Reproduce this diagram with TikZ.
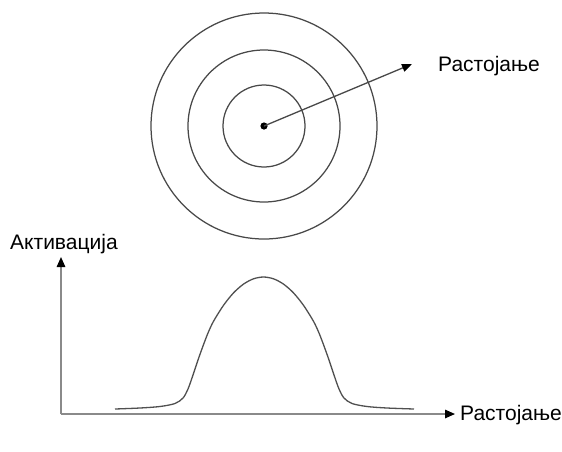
\documentclass[tikz,border=0pt]{standalone}
\usepackage{fontspec}
\setmainfont{Liberation Sans}
\usetikzlibrary{arrows.meta}
\definecolor{ringgray}{HTML}{484848}
\definecolor{axisgray}{HTML}{8A8A8A}
\definecolor{curvegray}{HTML}{505050}
\tikzset{
  ring/.style={draw=ringgray, line width=1.25pt},
  axisline/.style={draw=axisgray, line width=1.5pt, -{Triangle[length=10pt,width=8.5pt,color=black]}},
  distarrow/.style={draw=ringgray, line width=1.3pt, -{Triangle[length=10pt,width=8pt,color=black]}},
  lbl/.style={font=\fontsize{21}{23}\selectfont, inner sep=0pt},
  bell/.style={draw=curvegray, line width=1.3pt}
}
\begin{document}
\begin{tikzpicture}[x=1pt,y=-1pt]
\useasboundingbox (0,0) rectangle (562,451);
% rings
\coordinate (C) at (264,126);
\draw[ring] (C) circle[radius=41];
\draw[ring] (C) circle[radius=76];
\draw[ring] (C) circle[radius=113];
\fill[black] (C) circle[radius=3.6];
\coordinate (T) at (412,64);
\draw[distarrow] (C) -- (T);
\node[lbl, anchor=base west] (d1) at (438,71) {Растојање};
% axes
\coordinate (O) at (61,414);
\coordinate (Y) at (61,257);
\coordinate (X) at (455,414);
\draw[axisline] (O) -- (Y);
\draw[axisline] (O) -- (X);
\node[lbl, anchor=base west] (act) at (10,249.5) {Активација};
\node[lbl, anchor=base west] (d2) at (460,420) {Растојање};
% bell curve
\draw[bell] plot[smooth, tension=0.5] coordinates {
  (115,409) (140,408) (160,406.5) (175,403.5) (183,398) (188,389)
  (193,375) (198,360) (203,346) (208,333) (213.5,321.3) (223.5,305.3)
  (233.5,292.9) (243.5,284.1) (253.5,278.8) (263.5,277) (273.5,278.8)
  (283.5,284.1) (293.5,292.9) (303.5,305.3) (313.5,321.3) (319,333)
  (324,346) (329,360) (334,375) (339,389) (344,398) (352,403.5)
  (367,406.5) (387,408) (414,409)};
\end{tikzpicture}
\end{document}
